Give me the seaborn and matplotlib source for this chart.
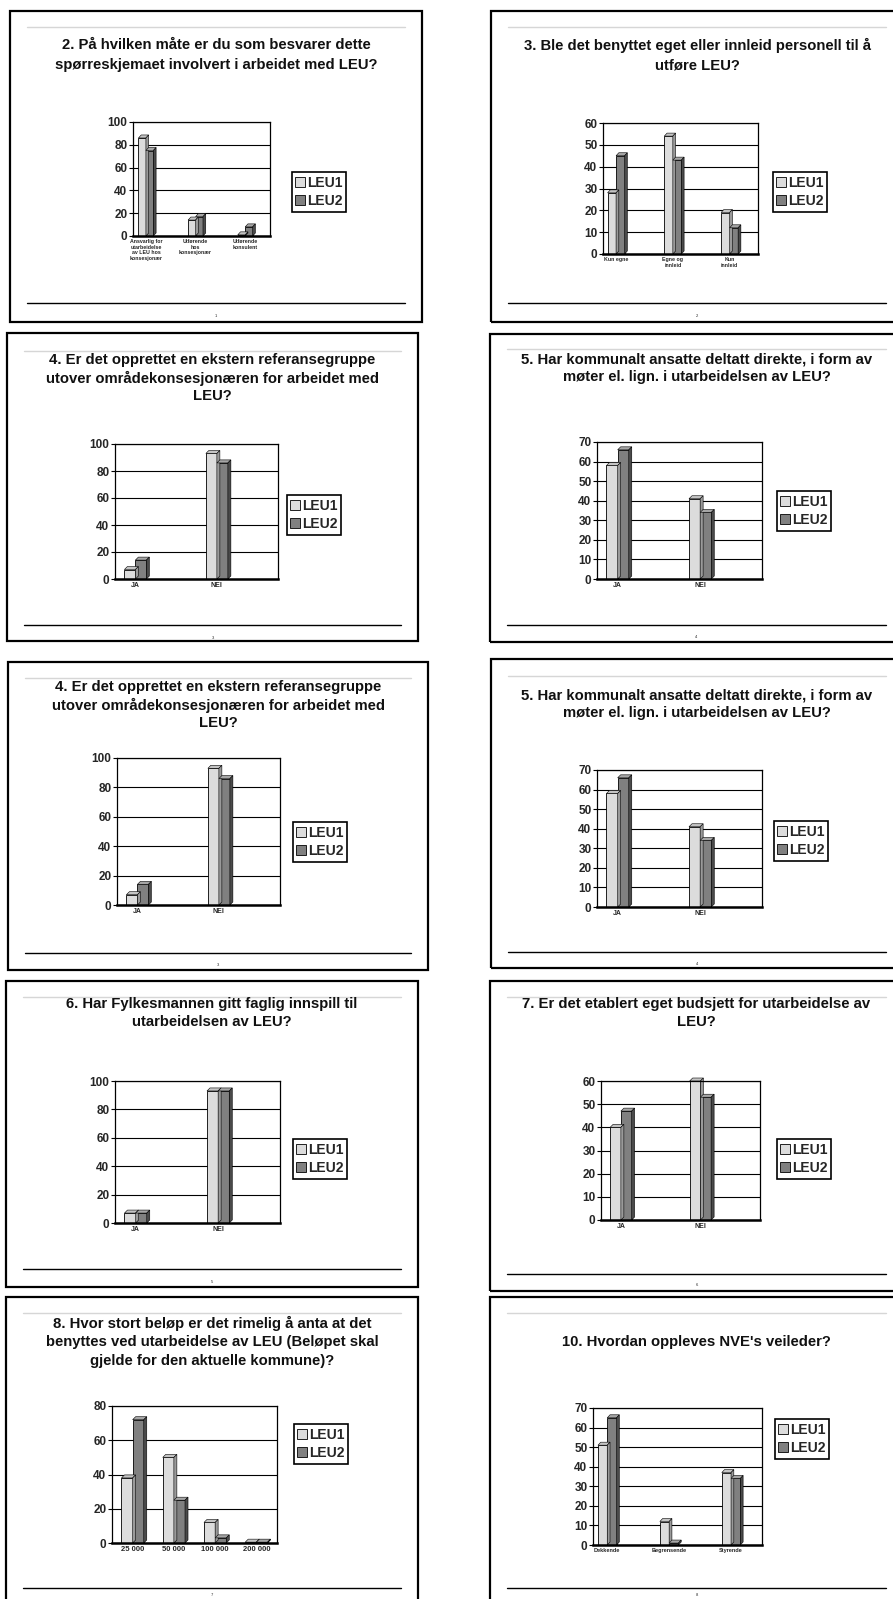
import numpy as np
import pandas as pd
import seaborn as sns
import matplotlib.pyplot as plt
from matplotlib.patches import Rectangle, Polygon, Patch
from matplotlib.lines import Line2D

# ---- data ----
series = ["LEU1", "LEU2"]

q2_cats = ["Ansvarlig for\nutarbeidelse\nav LEU hos\nkonsesjonær", "Utførende\nhos\nkonsesjonær", "Utførende\nkonsulent"]
q2_leu1 = [86, 14, 1]
q2_leu2 = [75, 17, 8]

q3_cats = ["Kun egne", "Egne og\ninnleid", "Kun\ninnleid"]
q3_leu1 = [28, 54, 19]
q3_leu2 = [45, 43, 12]

jn_cats = ["JA", "NEI"]

q4_leu1 = [7, 93]
q4_leu2 = [14, 86]

q5_leu1 = [58, 41]
q5_leu2 = [66, 34]

q6_leu1 = [7, 93]
q6_leu2 = [7, 93]

q7_leu1 = [40, 60]
q7_leu2 = [47, 53]

q8_cats = ["25 000", "50 000", "100 000", "200 000"]
q8_leu1 = [38, 50, 12, 0.5]
q8_leu2 = [72, 25, 3, 0.5]

q10_cats = ["Dekkende", "Begrensende", "Styrende"]
q10_leu1 = [51, 12, 37]
q10_leu2 = [65, 1, 34]

t2 = "2. På hvilken måte er du som besvarer dette\nspørreskjemaet involvert i arbeidet med LEU?"
t3 = "3. Ble det benyttet eget eller innleid personell til å\nutføre LEU?"
t4 = "4. Er det opprettet en ekstern referansegruppe\nutover områdekonsesjonæren for arbeidet med\nLEU?"
t5 = "5. Har kommunalt ansatte deltatt direkte, i form av\nmøter el. lign. i utarbeidelsen av LEU?"
t6 = "6. Har Fylkesmannen gitt faglig innspill til\nutarbeidelsen av LEU?"
t7 = "7. Er det etablert eget budsjett for utarbeidelse av\nLEU?"
t8 = "8. Hvor stort beløp er det rimelig å anta at det\nbenyttes ved utarbeidelse av LEU (Beløpet skal\ngjelde for den aktuelle kommune)?"
t10 = "10. Hvordan oppleves NVE's veileder?"

# ---- slide layout (pixels in the 893x1599 page) ----
panels = [
    dict(title=t2, cats=q2_cats, v1=q2_leu1, v2=q2_leu2, gaps=False, ymax=100, step=20,
         box=(10, 11, 422, 322), gray=27, ty=45, lsp=20, axes=(133, 122, 270, 236),
         xlim=(-0.26, 2.27), bw=0.3, leg=(319, 192), bot=303, pg=316, page="1", xfs=3.8),
    dict(title=t3, cats=q3_cats, v1=q3_leu1, v2=q3_leu2, gaps=False, ymax=60, step=10,
         box=(491, 11, 903, 322), gray=27, ty=45, lsp=20, axes=(603, 123, 758, 254),
         xlim=(-0.23, 2.27), bw=0.3, leg=(800, 192), bot=303, pg=316, page="2", xfs=3.8),
    dict(title=t4, cats=jn_cats, v1=q4_leu1, v2=q4_leu2, gaps=True, ymax=100, step=20,
         box=(7, 333, 418, 641), gray=351, ty=360, lsp=18, axes=(115, 444, 278, 579),
         xlim=(-0.5, 3.5), bw=0.54, leg=(314, 515), bot=625, pg=638, page="3", xfs=5),
    dict(title=t5, cats=jn_cats, v1=q5_leu1, v2=q5_leu2, gaps=True, ymax=70, step=10,
         box=(490, 334, 903, 642), gray=349, ty=359, lsp=18, axes=(597, 442, 762, 579),
         xlim=(-0.5, 3.5), bw=0.54, leg=(804, 511), bot=625, pg=637, page="4", xfs=5),
    dict(title=t4, cats=jn_cats, v1=q4_leu1, v2=q4_leu2, gaps=True, ymax=100, step=20,
         box=(8, 662, 428, 970), gray=678, ty=687, lsp=18, axes=(117, 758, 280, 905),
         xlim=(-0.5, 3.5), bw=0.54, leg=(320, 842), bot=953, pg=965, page="3", xfs=5),
    dict(title=t5, cats=jn_cats, v1=q5_leu1, v2=q5_leu2, gaps=True, ymax=70, step=10,
         box=(491, 659, 903, 968), gray=676, ty=695, lsp=18, axes=(597, 770, 762, 907),
         xlim=(-0.5, 3.5), bw=0.54, leg=(801, 841), bot=952, pg=964, page="4", xfs=5),
    dict(title=t6, cats=jn_cats, v1=q6_leu1, v2=q6_leu2, gaps=True, ymax=100, step=20,
         box=(6, 981, 418, 1287), gray=997, ty=1004, lsp=18, axes=(115, 1081, 280, 1223),
         xlim=(-0.5, 3.5), bw=0.54, leg=(320, 1159), bot=1269, pg=1282, page="5", xfs=5),
    dict(title=t7, cats=jn_cats, v1=q7_leu1, v2=q7_leu2, gaps=True, ymax=60, step=10,
         box=(490, 981, 903, 1291), gray=997, ty=1004, lsp=18, axes=(601, 1081, 760, 1220),
         xlim=(-0.5, 3.5), bw=0.54, leg=(804, 1159), bot=1274, pg=1285, page="6", xfs=5),
    dict(title=t8, cats=q8_cats, v1=q8_leu1, v2=q8_leu2, gaps=False, ymax=80, step=20,
         box=(6, 1297, 418, 1610), gray=1313, ty=1323, lsp=19, axes=(112, 1406, 277, 1543),
         xlim=(-0.5, 3.5), bw=0.54, leg=(321, 1444), bot=1588, pg=1595, page="7", xfs=5.5),
    dict(title=t10, cats=q10_cats, v1=q10_leu1, v2=q10_leu2, gaps=False, ymax=70, step=10,
         box=(490, 1297, 903, 1610), gray=1313, ty=1342, lsp=19, axes=(593, 1408, 762, 1545),
         xlim=(-0.23, 2.3), bw=0.3, leg=(802, 1439), bot=1588, pg=1595, page="8", xfs=4),
]

W, H = 893, 1599
colors = ["#dcdcdc", "#808080"]
tops = ["#c4c4c4", "#a6a6a6"]
sides = ["#9a9a9a", "#4a4a4a"]

sns.set_theme(style="white")
plt.rcParams["font.family"] = ["Liberation Sans", "DejaVu Sans"]


def fx(x):
    return x / W


def fy(y):
    return 1 - y / H


fig = plt.figure(figsize=(W / 100, H / 100), dpi=100, facecolor="white")

for p in panels:
    x0, y0, x1, y1 = p["box"]
    fig.add_artist(Rectangle((fx(x0), fy(y1)), (x1 - x0) / W, (y1 - y0) / H,
                             transform=fig.transFigure, fill=False, lw=1.6, ec="black"))
    fig.add_artist(Line2D([fx(x0 + 17), fx(x1 - 17)], [fy(p["gray"])] * 2,
                          transform=fig.transFigure, color="#d6d6d6", lw=1))
    fig.add_artist(Line2D([fx(x0 + 17), fx(x1 - 17)], [fy(p["bot"])] * 2,
                          transform=fig.transFigure, color="black", lw=1))
    cx = (x0 + x1) / 2
    for i, line in enumerate(p["title"].split("\n")):
        fig.text(fx(cx), fy(p["ty"] + i * p["lsp"]), line, ha="center", va="center",
                 fontsize=10.7, fontweight="bold", color="#111111")
    fig.text(fx(cx), fy(p["pg"]), p["page"], ha="center", va="center", fontsize=3)

    # chart
    cats = p["cats"]
    n = len(cats)
    order = [cats[0], " ", cats[1], "  "] if p["gaps"] else list(cats)
    df = pd.DataFrame({"cat": cats * 2,
                       "serie": [series[0]] * n + [series[1]] * n,
                       "val": p["v1"] + p["v2"]})
    ax0, ay0, ax1, ay1 = p["axes"]
    ax = fig.add_axes([fx(ax0), fy(ay1), (ax1 - ax0) / W, (ay1 - ay0) / H])
    sns.barplot(data=df, x="cat", y="val", hue="serie", order=order, hue_order=series,
                palette=colors, width=p["bw"], edgecolor="black", linewidth=0.6,
                errorbar=None, legend=False, ax=ax)

    ax.set_xlim(*p["xlim"])
    ax.set_ylim(0, p["ymax"])
    ax.set_xlabel("")
    ax.set_ylabel("")

    # pseudo 3d faces on each bar
    dx = 3.0 * (p["xlim"][1] - p["xlim"][0]) / (ax1 - ax0)
    dy = 3.0 * p["ymax"] / (ay1 - ay0)
    for bar in list(ax.patches):
        h = bar.get_height()
        if not np.isfinite(h) or h <= 0:
            continue
        bx, w = bar.get_x(), bar.get_width()
        k = 0 if np.mean(bar.get_facecolor()[:3]) > 0.7 else 1
        ax.add_patch(Polygon([(bx, h), (bx + dx, h + dy), (bx + w + dx, h + dy), (bx + w, h)],
                             closed=True, fc=tops[k], ec="black", lw=0.4, clip_on=False))
        ax.add_patch(Polygon([(bx + w, 0), (bx + w + dx, dy), (bx + w + dx, h + dy), (bx + w, h)],
                             closed=True, fc=sides[k], ec="black", lw=0.4, clip_on=False))

    ax.set_yticks(np.arange(0, p["ymax"] + 1, p["step"]))
    ax.yaxis.grid(True, color="black", lw=0.8)
    ax.xaxis.grid(False)
    ax.set_axisbelow(True)
    for s in ax.spines.values():
        s.set_color("black")
        s.set_linewidth(0.9)
        s.set_visible(True)
    ax.spines["bottom"].set_linewidth(1.8)

    labels = [c if c.strip() else "" for c in order]
    ax.set_xticks(range(len(order)))
    ax.set_xticklabels(labels, fontsize=p["xfs"], fontweight="bold")
    ax.set_xticks(np.arange(len(order)) + 0.5, minor=True)
    ax.tick_params(axis="x", which="major", length=0, pad=2)
    ax.tick_params(axis="x", which="minor", length=3, width=0.8, direction="out", color="black")
    ax.tick_params(axis="y", length=3, width=0.8, direction="out", color="black",
                   labelsize=8.5, pad=1, left=True)
    for lab in ax.get_yticklabels():
        lab.set_fontweight("bold")

    handles = [Patch(facecolor=colors[i], edgecolor="black", lw=0.6, label=series[i]) for i in range(2)]
    leg = fig.legend(handles=handles, loc="center", bbox_to_anchor=(fx(p["leg"][0]), fy(p["leg"][1])),
                     frameon=True, fancybox=False, edgecolor="black", framealpha=1,
                     prop={"size": 10, "weight": "bold"}, handlelength=0.7, handleheight=0.7,
                     handletextpad=0.2, borderpad=0.25, labelspacing=0.3, borderaxespad=0)
    leg.get_frame().set_linewidth(1.2)

fig.savefig("out.png", dpi=100, facecolor="white")
